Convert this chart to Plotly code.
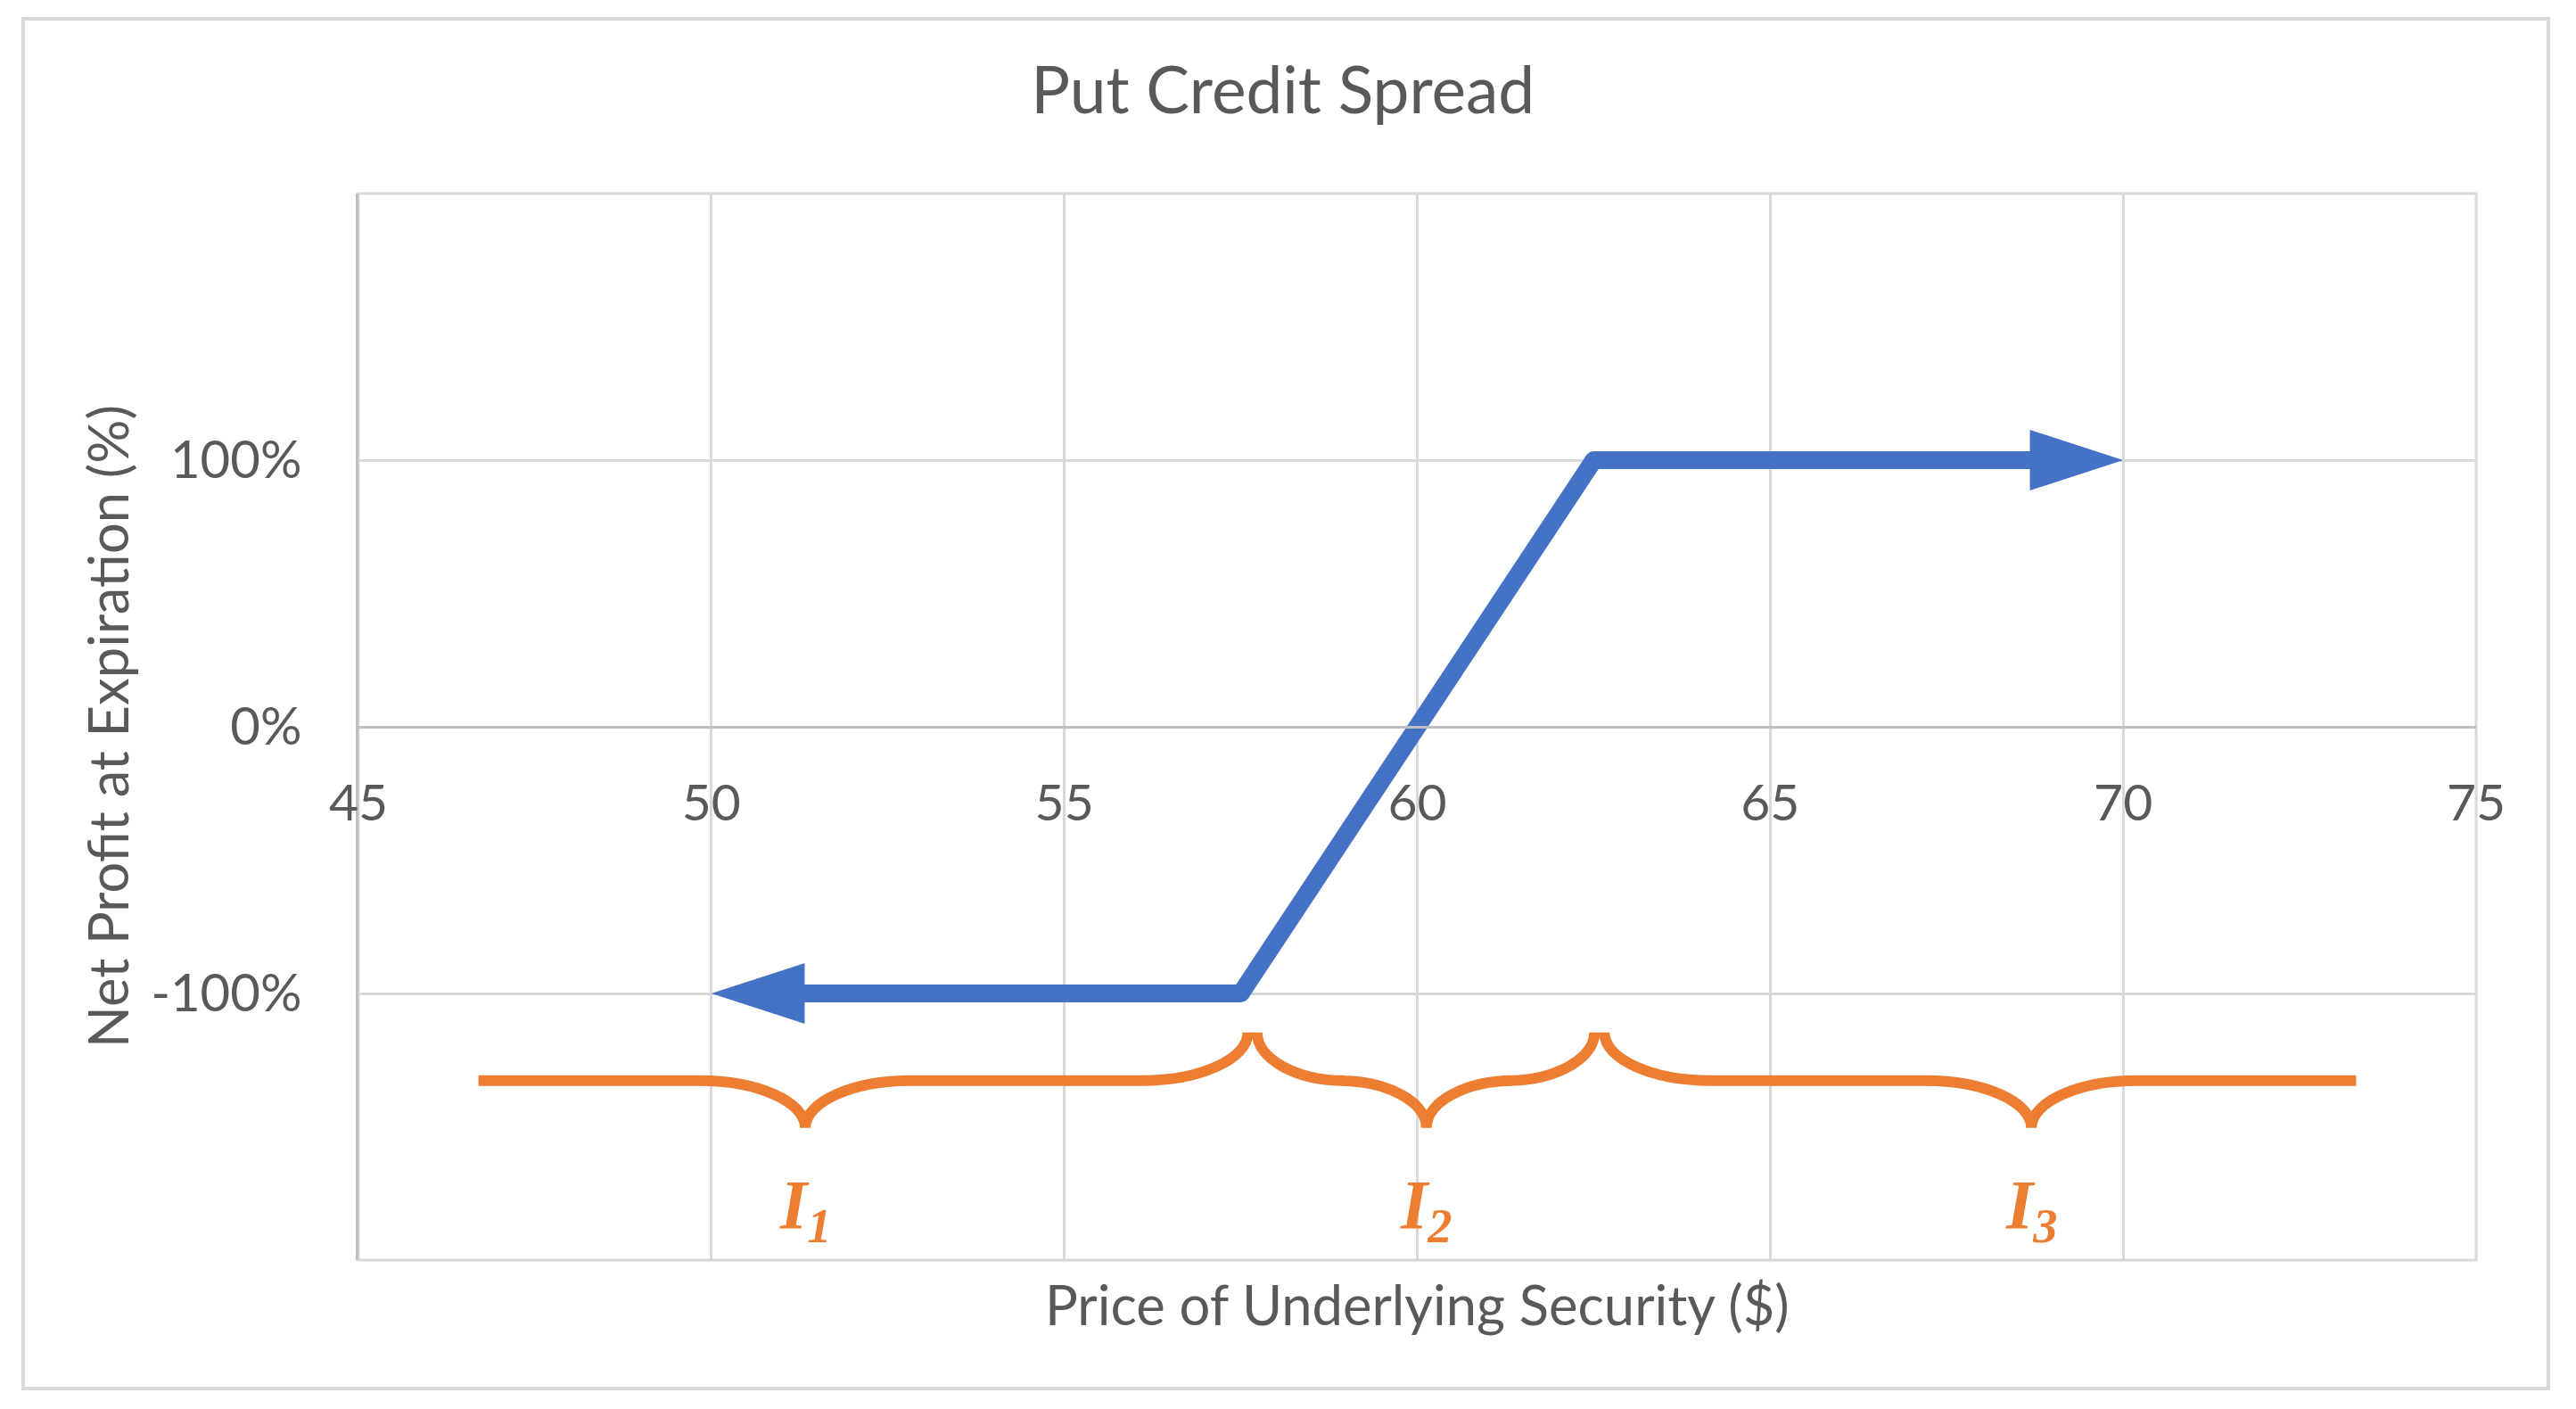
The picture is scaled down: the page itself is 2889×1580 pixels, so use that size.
import plotly.graph_objects as go

# payoff at expiration (net profit as a fraction of max profit)
price = [50, 57.5, 62.5, 70]
profit = [-1, -1, 1, 1]

x_ticks = [45, 50, 55, 60, 65, 70, 75]
y_ticks = [-1, 0, 1]
y_tick_text = ['-100%', '0%', '100%']

# the three price intervals marked with braces under the chart
brace_start = [46.7, 57.73, 62.65]
brace_end = [57.6, 62.51, 73.3]
brace_mid = [51.33, 60.13, 68.7]
brace_names = ['1', '2', '3']
brace_curl_left = [False, True, True]
brace_curl_right = [True, True, False]

BLUE = '#4472C4'
ORANGE = '#ED7D31'
TEXT = '#595959'
GRID = '#d9d9d9'
AXIS = '#bfbfbf'
LINE_W = 20


def brace_path(x0, x1, xm, left, right):
    # curly brace opening upwards, built from quarter ellipses
    k = 0.552
    yb, yt, yc = -1.327, -1.146, -1.504
    r = min(1.5, 0.26 * (x1 - x0))
    if left:
        p = f'M{x0},{yt} C{x0},{yt - k * (yt - yb)} {x0 + r - k * r},{yb} {x0 + r},{yb}'
    else:
        p = f'M{x0},{yb}'
    p += f' L{xm - r},{yb} C{xm - r + k * r},{yb} {xm},{yc + k * (yb - yc)} {xm},{yc}'
    p += f' C{xm},{yc + k * (yb - yc)} {xm + r - k * r},{yb} {xm + r},{yb}'
    if right:
        p += f' L{x1 - r},{yb} C{x1 - r + k * r},{yb} {x1},{yt - k * (yt - yb)} {x1},{yt}'
    else:
        p += f' L{x1},{yb}'
    return p


fig = go.Figure()

# rising middle part, round dots at the corners fill the joins
fig.add_trace(go.Scatter(
    x=price[1:3], y=profit[1:3], mode='lines+markers',
    line=dict(color=BLUE, width=LINE_W),
    marker=dict(symbol='circle', size=LINE_W, color=BLUE, line=dict(width=0)),
    hoverinfo='skip'))

# flat ends with arrow heads; the left one runs backwards so it points left
for xs, ys in [(price[1::-1], profit[1::-1]), (price[2:], profit[2:])]:
    fig.add_trace(go.Scatter(
        x=xs, y=ys, mode='lines+markers',
        line=dict(color=BLUE, width=LINE_W, backoff=45),
        marker=dict(symbol='arrow', angleref='previous', size=[0, 110], color=BLUE,
                    opacity=1, line=dict(width=0)),
        hoverinfo='skip'))

# borders
fig.add_shape(type='rect', xref='paper', yref='paper', x0=-0.1583, x1=1.0341, y0=-0.1204, y1=1.1639,
              line=dict(color=GRID, width=4), layer='below')
fig.add_shape(type='rect', xref='paper', yref='paper', x0=0, x1=1, y0=0, y1=1,
              line=dict(color=GRID, width=3), layer='below')

for i in range(len(brace_start)):
    fig.add_shape(type='path', xref='x', yref='y',
                  path=brace_path(brace_start[i], brace_end[i], brace_mid[i],
                                  brace_curl_left[i], brace_curl_right[i]),
                  line=dict(color=ORANGE, width=12))
    fig.add_annotation(x=brace_mid[i], y=-1.81, xref='x', yref='y',
                       text='<b><i>I<sub>' + brace_names[i] + '</sub></i></b>',
                       showarrow=False, xanchor='center', yanchor='middle',
                       font=dict(family='Liberation Serif', size=78, color=ORANGE))

fig.add_annotation(text='Price of Underlying Security ($)', xref='paper', yref='paper',
                   x=0.5, y=-0.041, showarrow=False, xanchor='center', yanchor='middle',
                   font=dict(size=61.5, color=TEXT))
fig.add_annotation(text='Net Profit at Expiration (%)', xref='paper', yref='paper',
                   x=-0.1187, y=0.5, textangle=-90, showarrow=False,
                   xanchor='center', yanchor='middle',
                   font=dict(size=61.5, color=TEXT))

fig.update_layout(
    width=2889, height=1580,
    margin=dict(l=402, r=112, t=217, b=167),
    paper_bgcolor='white', plot_bgcolor='white',
    showlegend=False,
    font=dict(family='Lato', color=TEXT),
    title=dict(text='Put Credit Spread', xref='container', yref='container',
               x=0.498, y=1 - 101 / 1580, xanchor='center', yanchor='middle',
               font=dict(size=73, color=TEXT)),
)

fig.update_xaxes(range=[45, 75], tickvals=x_ticks, showgrid=True, gridcolor=GRID, gridwidth=3,
                 anchor='free', position=0.5, showline=True, linecolor=AXIS, linewidth=3,
                 ticks='', zeroline=False, tickfont=dict(size=57, color=TEXT),
                 ticklabelstandoff=35)
fig.update_yaxes(range=[-2, 2], tickvals=y_ticks, ticktext=y_tick_text, showgrid=True,
                 gridcolor=GRID, gridwidth=3, showline=True, linecolor=AXIS, linewidth=3,
                 ticks='', zeroline=False, tickfont=dict(size=58, color=TEXT),
                 ticklabelstandoff=49)

fig.write_html("out.html", config={'displayModeBar': False},
               post_script="document.body.style.margin='0';")
